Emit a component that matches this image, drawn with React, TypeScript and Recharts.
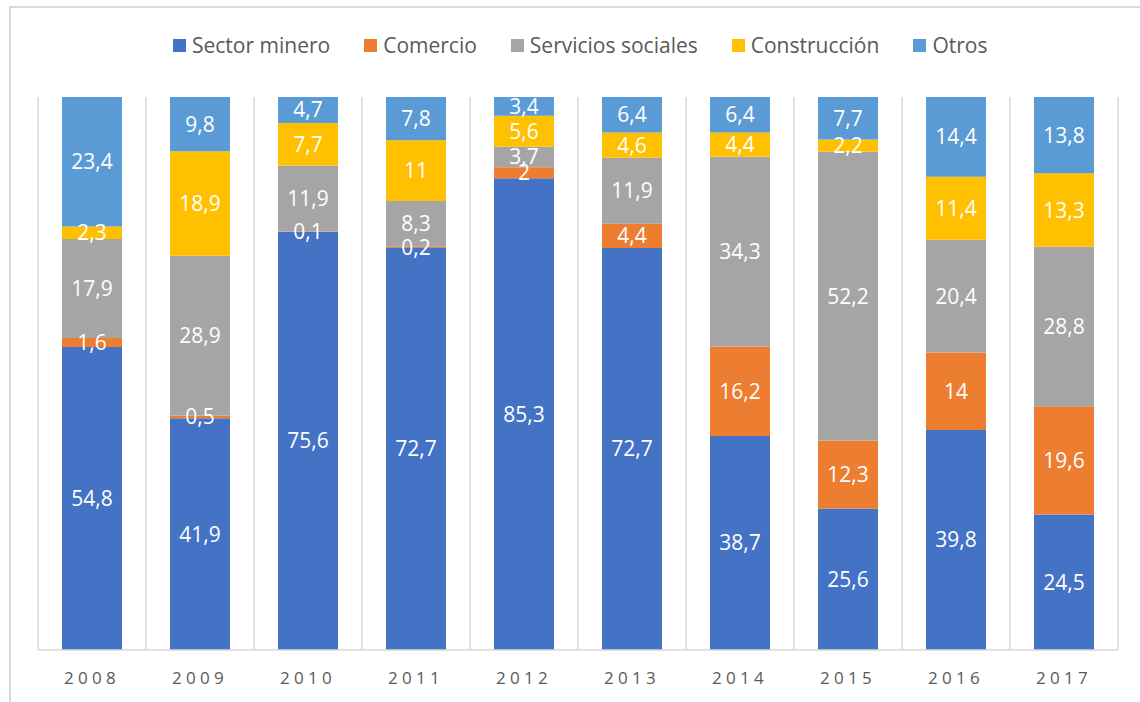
import React from "react";
import { BarChart, Bar, XAxis, YAxis, CartesianGrid, LabelList } from "recharts";

const years = ["2008", "2009", "2010", "2011", "2012", "2013", "2014", "2015", "2016", "2017"];
const sectorMinero = [54.8, 41.9, 75.6, 72.7, 85.3, 72.7, 38.7, 25.6, 39.8, 24.5];
const comercio = [1.6, 0.5, 0.1, 0.2, 2, 4.4, 16.2, 12.3, 14, 19.6];
const serviciosSociales = [17.9, 28.9, 11.9, 8.3, 3.7, 11.9, 34.3, 52.2, 20.4, 28.8];
const construccion = [2.3, 18.9, 7.7, 11, 5.6, 4.6, 4.4, 2.2, 11.4, 13.3];
const otros = [23.4, 9.8, 4.7, 7.8, 3.4, 6.4, 6.4, 7.7, 14.4, 13.8];

const seriesNames = ["Sector minero", "Comercio", "Servicios sociales", "Construcción", "Otros"];
const seriesKeys = ["sector", "comercio", "servicios", "construccion", "otros"];
const seriesColors = ["#4472C4", "#ED7D31", "#A5A5A5", "#FFC000", "#5B9BD5"];

const data = years.map((y, i) => ({
  year: y,
  sector: sectorMinero[i],
  comercio: comercio[i],
  servicios: serviciosSociales[i],
  construccion: construccion[i],
  otros: otros[i],
}));

const FONT = "'Open Sans', 'DejaVu Sans', sans-serif";

const fmt = (v: any) => String(v).replace(".", ",");

const CustomTick = (props: any) => {
  const { x, y, payload } = props;
  return (
    <text
      x={x}
      y={y}
      dy={26}
      textAnchor="middle"
      fill="#595959"
      fontSize={17}
      fontFamily={FONT}
      style={{ letterSpacing: "4.3px" }}
    >
      {payload.value}
    </text>
  );
};

export default function App() {
  const chartW = 1129;
  const chartH = 696;
  return (
    <div>
      <style>{`body{margin:0;overflow:hidden;}`}</style>
      <div
        style={{
          position: "absolute",
          left: 9,
          top: 6,
          width: 1140,
          height: 710,
          border: "2px solid #D9D9D9",
          background: "#fff",
          boxSizing: "border-box",
        }}
      >
        <div
          style={{
            position: "absolute",
            left: 0,
            top: 23,
            width: 1140,
            display: "flex",
            justifyContent: "flex-start",
            paddingLeft: 162,
            boxSizing: "border-box",
            fontFamily: FONT,
            fontSize: 21,
            color: "#595959",
            whiteSpace: "nowrap",
          }}
        >
          {seriesNames.map((n, i) => (
            <div key={n} style={{ display: "flex", alignItems: "center", marginRight: 34 }}>
              <span
                style={{
                  display: "inline-block",
                  width: 13,
                  height: 13,
                  background: seriesColors[i],
                  marginRight: 6,
                }}
              />
              <span>{n}</span>
            </div>
          ))}
        </div>
        <div style={{ position: "absolute", left: 0, top: 0 }}>
          <BarChart
            width={chartW}
            height={chartH}
            data={data}
            margin={{ top: 89, right: chartW - 1107, bottom: 14, left: 27 }}
            barSize={60}
          >
            <CartesianGrid
              horizontal={false}
              vertical={true}
              stroke="#D9D9D9"
              strokeWidth={1.5}
              verticalCoordinatesGenerator={(p: any) => {
                const off = p.offset;
                const arr: number[] = [];
                for (let i = 0; i <= years.length; i++) {
                  arr.push(off.left + (i * off.width) / years.length);
                }
                return arr;
              }}
            />
            <XAxis
              dataKey="year"
              axisLine={{ stroke: "#D9D9D9", strokeWidth: 1.5 }}
              tickLine={false}
              tick={<CustomTick />}
              height={40}
              interval={0}
            />
            <YAxis hide domain={[0, 100]} />
            {seriesKeys.map((k, i) => (
              <Bar
                key={k}
                dataKey={k}
                stackId="a"
                fill={seriesColors[i]}
                isAnimationActive={false}
              >
                <LabelList
                  dataKey={k}
                  position="center"
                  fill="#FFFFFF"
                  fontSize={21}
                  fontFamily={FONT}
                  formatter={fmt}
                />
              </Bar>
            ))}
          </BarChart>
        </div>
      </div>
    </div>
  );
}
